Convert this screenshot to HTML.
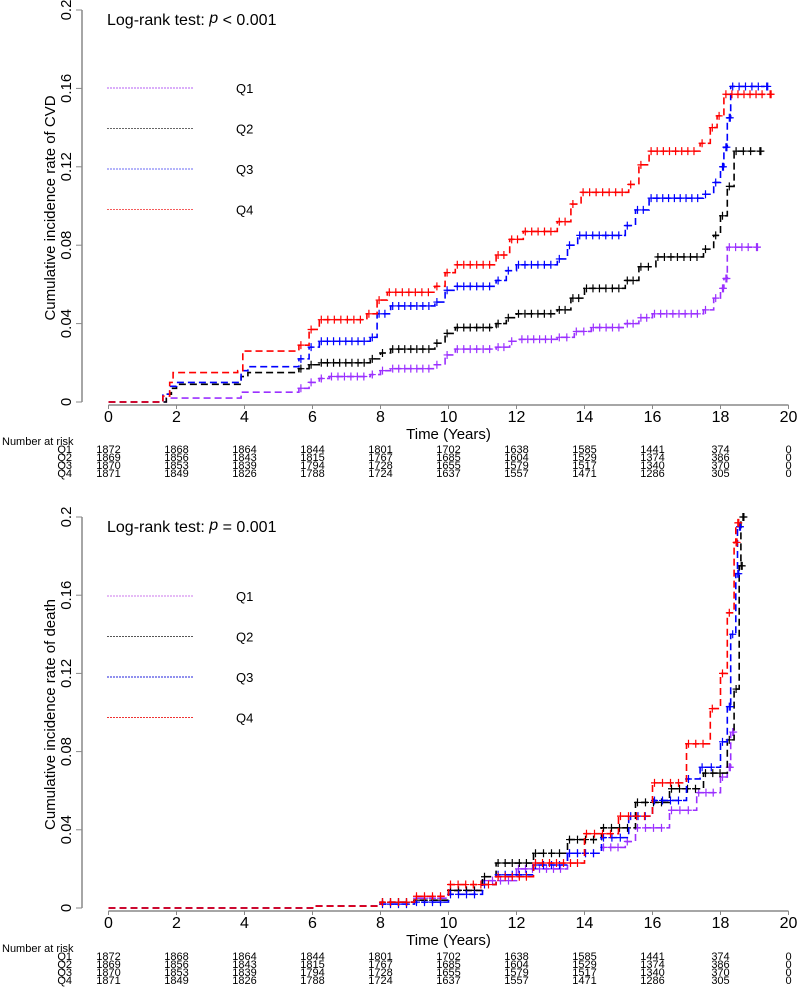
<!DOCTYPE html>
<html><head><meta charset="utf-8">
<style>
body{margin:0;background:#fff;}
svg{display:block;font-family:"Liberation Sans",sans-serif;}
</style></head>
<body>
<svg id="chart" width="797" height="990" viewBox="0 0 797 990"></svg>
<script>
// ---- Data: CVD (top) ----
const xTicks=[0,2,4,6,8,10,12,14,16,18,20];
const yTicks=[0,0.04,0.08,0.12,0.16,0.2];
const yTickLabels=["0","0.04","0.08","0.12","0.16","0.2"];
const groups=["Q1","Q2","Q3","Q4"];
const riskTimes=[0,2,4,6,8,10,12,14,16,18,20];
const riskQ1=[1872,1868,1864,1844,1801,1702,1638,1585,1441,374,0];
const riskQ2=[1869,1856,1843,1815,1767,1685,1604,1529,1374,386,0];
const riskQ3=[1870,1853,1839,1794,1728,1655,1579,1517,1340,370,0];
const riskQ4=[1871,1849,1826,1788,1724,1637,1557,1471,1286,305,0];

const cvdQ1t=[0,1.7,3.9,5.6,5.9,6.2,6.5,7.7,8.0,8.3,9.6,9.9,10.2,11.4,11.8,12.1,13.2,13.7,14.2,15.2,15.6,16.0,17.5,17.8,18.0,18.1,18.2,19.0];
const cvdQ1v=[0,0.002,0.005,0.007,0.010,0.012,0.013,0.014,0.016,0.017,0.019,0.024,0.027,0.028,0.031,0.032,0.033,0.036,0.038,0.040,0.043,0.045,0.047,0.053,0.058,0.063,0.079,0.079];
const cvdQ2t=[0,1.7,1.85,2.0,3.9,4.1,5.6,5.9,6.2,7.7,8.0,8.3,9.6,9.9,10.2,11.4,11.7,12.0,13.2,13.6,14.0,15.2,15.6,16.1,17.5,17.8,18.0,18.2,18.4,19.1];
const cvdQ2v=[0,0.004,0.007,0.009,0.013,0.015,0.017,0.019,0.020,0.022,0.025,0.027,0.030,0.035,0.038,0.040,0.043,0.045,0.047,0.053,0.058,0.062,0.069,0.074,0.078,0.085,0.095,0.110,0.128,0.128];
const cvdQ3t=[0,1.6,1.8,2.0,3.9,4.1,5.6,5.9,6.2,7.7,7.9,8.3,9.6,9.9,10.2,11.4,11.7,12.0,13.2,13.5,13.8,15.2,15.5,15.9,17.5,17.8,18.0,18.1,18.2,18.3,19.3];
const cvdQ3v=[0,0.004,0.008,0.010,0.016,0.018,0.022,0.028,0.031,0.033,0.045,0.049,0.051,0.057,0.059,0.062,0.067,0.070,0.073,0.080,0.085,0.090,0.098,0.104,0.106,0.112,0.120,0.130,0.145,0.161,0.161];
const cvdQ4t=[0,1.6,1.8,1.9,3.8,3.95,5.6,5.9,6.2,7.6,7.9,8.2,9.6,9.9,10.2,11.4,11.8,12.2,13.2,13.6,13.9,15.3,15.6,15.9,17.4,17.7,17.9,18.1,19.4];
const cvdQ4v=[0,0.003,0.010,0.015,0.016,0.026,0.029,0.037,0.042,0.045,0.052,0.056,0.059,0.066,0.070,0.075,0.083,0.087,0.092,0.101,0.107,0.111,0.121,0.128,0.132,0.140,0.146,0.157,0.157];

// ---- Data: death (bottom) ----
const dthQ1t=[0,6,8,9,10,11,12,13.5,14.5,15.2,15.5,16.5,17.3,18.0,18.2,18.3];
const dthQ1v=[0,0.001,0.003,0.005,0.009,0.014,0.020,0.028,0.031,0.034,0.041,0.050,0.059,0.067,0.072,0.090];
const dthQ2t=[0,6,8,9,10,11,11.4,12.5,13.5,14.5,15.5,16.5,17.5,18.2,18.4,18.55,18.6];
const dthQ2v=[0,0.001,0.003,0.004,0.009,0.016,0.023,0.028,0.035,0.041,0.054,0.061,0.069,0.086,0.112,0.175,0.200];
const dthQ3t=[0,6,8,9,10,11,11.4,12.5,13.5,14.5,15.3,16,17,17.4,18.0,18.2,18.3,18.45,18.5];
const dthQ3v=[0,0.001,0.002,0.003,0.007,0.012,0.017,0.022,0.028,0.036,0.047,0.055,0.066,0.072,0.085,0.103,0.140,0.171,0.195];
const dthQ4t=[0,6,8,9,10,11.4,12.5,14,15,16,17,17.7,18.0,18.2,18.4,18.45];
const dthQ4v=[0,0.001,0.003,0.006,0.012,0.016,0.023,0.038,0.047,0.064,0.084,0.102,0.120,0.151,0.187,0.197];

const svg=document.getElementById('chart');
const NS='http://www.w3.org/2000/svg';
function mk(tag,attrs,parent){const e=document.createElementNS(NS,tag);for(const k in attrs)e.setAttribute(k,attrs[k]);(parent||svg).appendChild(e);return e;}

const colors=["#9b30ff","#000000","#0000ff","#ff0000"];
const legendColorsTop=["#b65cf5","#666666","#6a6af5","#f55c5c"];
const legendColorsBot=["#cc77ee","#555555","#2222dd","#ee3333"];

function panel(cfg){
  const g=mk('g',{});
  
  
  const x0=108.5,pxYear=34;
  const X=t=>x0+t*pxYear;
  const Y=v=>cfg.y0-v*(cfg.y0-cfg.yTop)/0.2;
  const ya=mk('g',{},g);
  
  
  mk('line',{x1:82,x2:82,y1:Y(0.2),y2:Y(0),stroke:'#888','stroke-width':1.5},ya);
  yTicks.forEach((v,i)=>{
    mk('line',{x1:76,x2:82,y1:Y(v),y2:Y(v),stroke:'#888','stroke-width':1},ya);
    const t=mk('text',{x:0,y:0,'font-size':15,'text-anchor':'middle',fill:'#000',transform:`translate(71,${Y(v)}) rotate(-90)`},ya);
    t.textContent=yTickLabels[i];
    
    
  });
  const yt=mk('text',{'font-size':15,'text-anchor':'middle',fill:'#000',transform:`translate(55,${Y(0.1)+2}) rotate(-90)`},g);
  yt.textContent=cfg.ytitle;
  
  
  const xa=mk('g',{},g);
  
  
  const ax=cfg.y0+3;
  mk('line',{x1:X(0),x2:X(20),y1:ax,y2:ax,stroke:'#888','stroke-width':1.5},xa);
  xTicks.forEach(t=>{
    mk('line',{x1:X(t),x2:X(t),y1:ax,y2:ax+4,stroke:'#888','stroke-width':1},xa);
    const tx=mk('text',{x:X(t),y:ax+17,'font-size':16,'text-anchor':'middle',fill:'#000'},xa);
    tx.textContent=String(t);
    
    
  });
  const xt=mk('text',{x:X(10),y:ax+34,'font-size':15,'text-anchor':'middle',fill:'#000'},g);
  xt.textContent='Time (Years)';
  
  
  const lr=mk('text',{x:107,y:Y(0.2)+15,'font-size':16,fill:'#000'},g);
  lr.innerHTML='Log-rank test:  <tspan font-style="italic" dy="-2">p</tspan><tspan dy="2"> '+cfg.p+'</tspan>';
  
  
  groups.forEach((q,i)=>{
    const ly=cfg.legY+i*40.5;
    const le=mk('g',{},g);
    
    
    mk('line',{x1:107,x2:194,y1:ly,y2:ly,stroke:cfg.legCols[i],'stroke-width':1,'stroke-dasharray':'2,1'},le);
    const lt=mk('text',{x:236,y:ly+5,'font-size':13,fill:'#000'},le);
    lt.textContent=q;
  });
  cfg.series.forEach((s,i)=>{
    const sg=mk('g',{},g);
    
    
    let d=`M${X(s.t[0])},${Y(s.v[0])}`;
    for(let k=1;k<s.t.length;k++){d+=` H${X(s.t[k])} V${Y(s.v[k])}`;}
    mk('path',{d:d,fill:'none',stroke:colors[i],'stroke-width':1.6,'stroke-dasharray':'7,4'},sg);
    const plus=(cx,cy)=>mk('path',{d:`M${cx-3.5},${cy} H${cx+3.5} M${cx},${cy-4} V${cy+4}`,stroke:colors[i],'stroke-width':1.2},sg);
    for(let k=1;k<s.t.length;k++){
      if(s.t[k]<cfg.censorStart) continue;
      const cy=Y(s.v[k]);
      const tEnd=k+1<s.t.length?s.t[k+1]:s.t[k];
      const x1=X(s.t[k]),x2=X(tEnd);
      const n=Math.max(1,Math.floor((x2-x1)/cfg.markGap));
      for(let j=0;j<n;j++){ plus(x1+2+j*(x2-x1-2)/n,cy); }
      if(x2-x1<4) plus(x1+3,cy);
    }
  });
  const rt=mk('g',{},g);
  
  
  const ry=cfg.riskY;
  const nr=mk('text',{x:2,y:ry,'font-size':11,fill:'#000'},rt);
  nr.textContent='Number at risk';
  [riskQ1,riskQ2,riskQ3,riskQ4].forEach((row,r)=>{
    const yy=ry+8*(r+1);
    const lab=mk('text',{x:72,y:yy,'font-size':11,'text-anchor':'end',fill:'#000'},rt);
    lab.textContent=groups[r];
    row.forEach((n,c)=>{
      const tt=mk('text',{x:X(riskTimes[c]),y:yy,'font-size':11,'text-anchor':'middle',fill:'#000'},rt);
      tt.textContent=String(n);
    });
  });
}

panel({name:'cvd-panel',y0:402,yTop:10,ytitle:'Cumulative incidence rate of CVD',p:'< 0.001',legY:88,legCols:legendColorsTop,riskY:445,censorStart:5.5,markGap:6,
  series:[{t:cvdQ1t,v:cvdQ1v},{t:cvdQ2t,v:cvdQ2v},{t:cvdQ3t,v:cvdQ3v},{t:cvdQ4t,v:cvdQ4v}]});
panel({name:'death-panel',y0:908,yTop:517,ytitle:'Cumulative incidence rate of death',p:'= 0.001',legY:596,legCols:legendColorsBot,riskY:952,censorStart:8,markGap:7,
  series:[{t:dthQ1t,v:dthQ1v},{t:dthQ2t,v:dthQ2v},{t:dthQ3t,v:dthQ3v},{t:dthQ4t,v:dthQ4v}]});
</script>
</body></html>
